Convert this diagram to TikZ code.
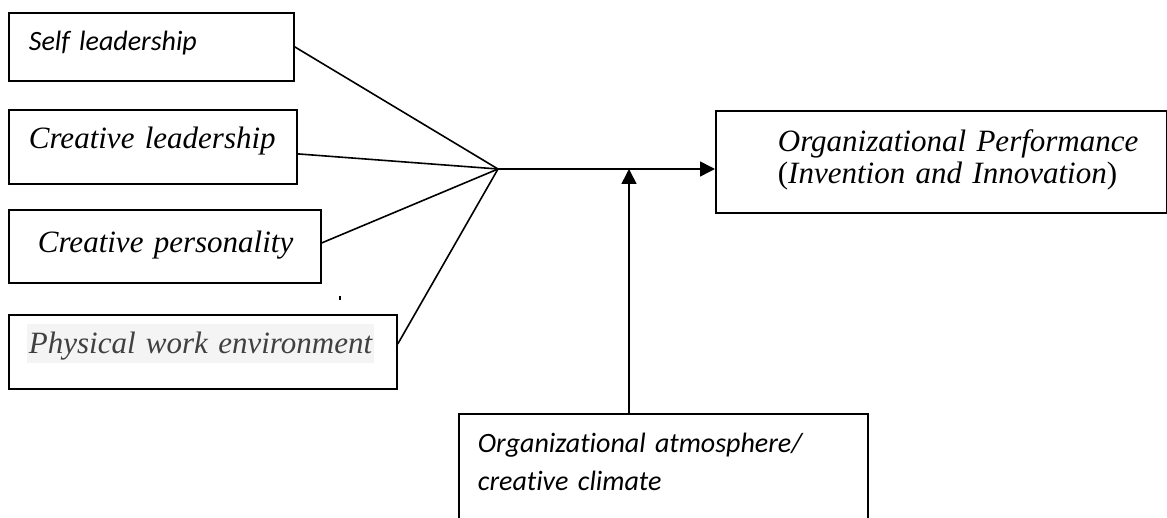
\documentclass[tikz,border=0pt]{standalone}
\usepackage{fontspec}
\setmainfont{Liberation Serif}
\newfontfamily\calibri[Ligatures=NoCommon]{Carlito}
\definecolor{PWEgray}{HTML}{404040}
\definecolor{PWEback}{HTML}{F4F4F4}
\usetikzlibrary{arrows.meta,calc,positioning}

% light grey band behind one label
\newcommand{\greyband}[1]{{\setlength{\fboxsep}{1pt}\colorbox{PWEback}{\rule[-2.5pt]{0pt}{16.5pt}#1}}}

\begin{document}
\begin{tikzpicture}[x=0.5pt,y=-0.5pt,>={Triangle[length=7.5pt,width=7.5pt]},
  factor/.style n args={3}{draw,line width=0.9pt,anchor=north west,inner sep=0pt,
    minimum width=#1,text width=#1,minimum height=#2,align=left,
    execute at begin node={\leftskip=#3}},
  serif/.style={font=\fontsize{15.5pt}{16pt}\selectfont\itshape},
  sans/.style={font=\calibri\fontsize{14pt}{19pt}\selectfont\itshape},
  link/.style={line width=0.8pt}]
  \useasboundingbox (0,0) rectangle (1167,518);

  % antecedents
  \node[factor={142.5pt}{34pt}{10pt},sans,text height=4pt,text depth=0pt] (self) at (8,12) {Self leadership};
  \node[factor={144pt}{37pt}{10pt},serif,text height=2pt,text depth=0pt] (lead) at (8,109) {Creative leadership};
  \node[factor={156pt}{36.5pt}{14.5pt},serif,text height=6pt,text depth=0pt] (pers) at (8,209) {Creative personality};
  \node[factor={194pt}{37pt}{9pt},serif,text height=2pt,text depth=0pt,text=PWEgray] (phys) at (8,314) {\greyband{Physical work environment}};

  % outcome and moderator
  \node[factor={225.5pt}{51pt}{31pt},serif,text height=0pt,text depth=10pt] (perf) at (715,110)
    {Organizational Performance\\\upshape(\itshape Invention and Innovation\upshape)};
  \node[factor={204.5pt}{58.5pt}{9.5pt},sans,text height=0pt,text depth=19.5pt] (atmos) at (458,413)
    {Organizational atmosphere/\\creative climate};

  \coordinate (hub) at (498,169);
  \coordinate (join) at (629,169);

  \draw[link] (self.east) -- (hub);
  \draw[link] ([yshift=-3.5pt]lead.east) -- (hub);
  \draw[link] ([yshift=1.75pt]pers.east) -- (hub);
  \draw[link] ([yshift=4pt]phys.east) -- (hub);
  \draw[link,->] (hub) -- (hub -| perf.west);
  \draw[link,->] (join |- atmos.north) -- (join);

  % stray mark
  \draw[line width=0.6pt] (340,296) -- (340,300);
\end{tikzpicture}
\end{document}
